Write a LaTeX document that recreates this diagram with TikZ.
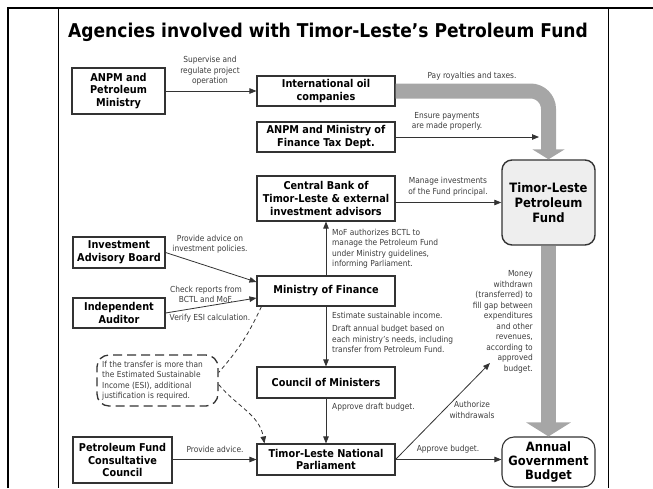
\documentclass[tikz,border=0pt]{standalone}
\usepackage{fontspec}
\setmainfont{DejaVu Sans}[FakeStretch=0.9]
\usepackage{tikz}
\usetikzlibrary{arrows.meta,positioning,calc}
\definecolor{boxline}{RGB}{51,51,51}
\definecolor{notegray}{RGB}{60,60,60}
\definecolor{bandgray}{RGB}{166,166,166}
\definecolor{fundfill}{RGB}{238,238,238}
\tikzstyle{agency}=[draw=boxline,line width=1.1pt,font=\fontsize{10.8}{12.7}\selectfont\bfseries,align=center,inner sep=2pt]
\tikzstyle{fundbox}=[agency,rounded corners=10pt,line width=1.4pt,font=\fontsize{12.9}{15}\selectfont\bfseries]
\tikzstyle{notebox}=[draw=boxline,line width=1.3pt,dash pattern=on 9pt off 5pt,rounded corners=12pt]
\tikzstyle{lbl}=[font=\fontsize{8.3}{10.5}\selectfont,text=notegray,align=center,inner sep=0pt]
\tikzstyle{flow}=[-{Triangle[length=7pt,width=5.5pt]},line width=0.8pt,draw=boxline]
\tikzstyle{dflow}=[flow,dash pattern=on 4pt off 3pt]
\tikzstyle{band}=[line width=15pt,draw=bandgray,rounded corners=18pt]

\begin{document}
\begin{tikzpicture}[x=1pt,y=1pt]
\useasboundingbox (0,0) rectangle (653,-488);

% frame
\draw[line width=2pt] (8,-488) -- (8,-8) -- (653,-8);
\draw[line width=1pt] (58,-8) -- (58,-488);
\draw[line width=1pt] (608,-8) -- (608,-488);

\node[font=\fontsize{19}{22}\selectfont\bfseries] (title) at (328,-32) {Agencies involved with Timor-Leste’s Petroleum Fund};

%left column
\node[agency,minimum width=93pt,minimum height=46pt] (anpm) at (118.5,-91) {ANPM and\\Petroleum\\Ministry};
\node[agency,minimum width=92pt,minimum height=31pt] (iab) at (119,-252.5) {Investment\\Advisory Board};
\node[agency,minimum width=92pt,minimum height=30pt] (aud) at (119,-313) {Independent\\Auditor};
\node[notebox,minimum width=121pt,minimum height=51pt] (esi) at (157.5,-380.5) {};
\node[lbl,align=left,anchor=west] (esitxt) at (102,-380.5) {If the transfer is more than\\the Estimated Sustainable\\Income (ESI), additional\\justification is required.};
\node[agency,minimum width=99pt,minimum height=46pt] (pfcc) at (122.5,-460) {Petroleum Fund\\Consultative\\Council};

%middle column
\node[agency,minimum width=138pt,minimum height=30pt] (ioc) at (326,-91) {International oil\\companies};
\node[agency,minimum width=138pt,minimum height=30pt] (tax) at (326,-137) {ANPM and Ministry of\\Finance Tax Dept.};
\node[agency,minimum width=138pt,minimum height=45pt] (bctl) at (326,-198.5) {Central Bank of\\Timor-Leste \& external\\investment advisors};
\node[agency,minimum width=138pt,minimum height=30pt] (mof) at (326,-291) {Ministry of Finance};
\node[agency,minimum width=138pt,minimum height=31pt] (com) at (326,-382.5) {Council of Ministers};
\node[agency,minimum width=138pt,minimum height=31pt] (parl) at (326,-459.5) {Timor-Leste National\\Parliament};

%right column
\node[fundbox,fill=fundfill,minimum width=93pt,minimum height=85pt] (fund) at (548.5,-202.5) {Timor-Leste\\Petroleum\\Fund};
\node[fundbox,fill=white,line width=1.1pt,rounded corners=12pt,minimum width=93pt,minimum height=50pt,font=\fontsize{12.8}{14.2}\selectfont\bfseries] (budget) at (548.5,-462) {Annual\\Government\\Budget};

\coordinate (taxin) at (539,-137);
\coordinate (wdr) at (490,-363);

% gray money flows
\draw[band,-{Triangle[width=32pt,length=10pt]}] (ioc.east) -- (ioc.east -| fund.north) -- (fund.north);
\draw[band,-{Triangle[width=44pt,length=14pt]}] (fund.south) -- (budget.north);

% labels
\node[lbl] (lsup) at (210,-71) {Supervise and\\regulate project\\operation};
\node[lbl] (lpay) at (472,-76) {Pay royalties and taxes.};
\node[lbl] (lens) at (447,-121.5) {Ensure payments\\are made properly.};
\node[lbl] (lman) at (448,-186.5) {Manage investments\\of the Fund principal.};
\node[lbl,align=left,anchor=west] (lauth) at (332,-248.5) {MoF authorizes BCTL to\\manage the Petroleum Fund\\under Ministry guidelines,\\informing Parliament.};
\node[lbl] (ladv) at (210,-244) {Provide advice on\\investment policies.};
\node[lbl] (lchk) at (206,-294.5) {Check reports from\\BCTL and MoF.};
\node[lbl] (lver) at (210,-318) {Verify ESI calculation.};
\node[lbl,align=left,anchor=west] (lest) at (332,-315) {Estimate sustainable income.};
\node[lbl,align=left,anchor=west] (ldra) at (332,-339) {Draft annual budget based on\\each ministry’s needs, including\\transfer from Petroleum Fund.};
\node[lbl,align=left,anchor=west] (lapd) at (332,-407) {Approve draft budget.};
\node[lbl] (lpfa) at (215,-449) {Provide advice.};
\node[lbl] (law) at (472,-410) {Authorize\\withdrawals};
\node[lbl] (lapb) at (448,-449) {Approve budget.};
\node[lbl,align=right,anchor=east] (lmon) at (533,-322) {Money\\withdrawn\\(transferred) to\\fill gap between\\expenditures\\and other\\revenues,\\according to\\approved\\budget.};

\path
(anpm) edge [flow] (ioc)
(tax.east) edge [flow] (taxin)
(fund.west -| bctl.east) edge [flow] (fund.west)
(mof) edge [flow] (bctl)
(iab.east) edge [flow] ([yshift=9pt]mof.west)
(aud.east) edge [flow] ([yshift=-7pt]mof.west)
(mof) edge [flow] (com)
(com) edge [flow] (parl)
(pfcc.east |- parl.west) edge [flow] (parl.west)
(parl.east) edge [flow] (wdr)
(parl.east) edge [flow] (parl.east -| budget.west)

([xshift=5pt]mof.south west) edge [draw=boxline,line width=0.8pt,dash pattern=on 4pt off 3pt,bend left=8] ([yshift=8pt]esi.east)
([yshift=-4pt]esi.east) edge [dflow,out=-50,in=100] ([xshift=8pt]parl.north west)
;

\end{tikzpicture}
\end{document}
